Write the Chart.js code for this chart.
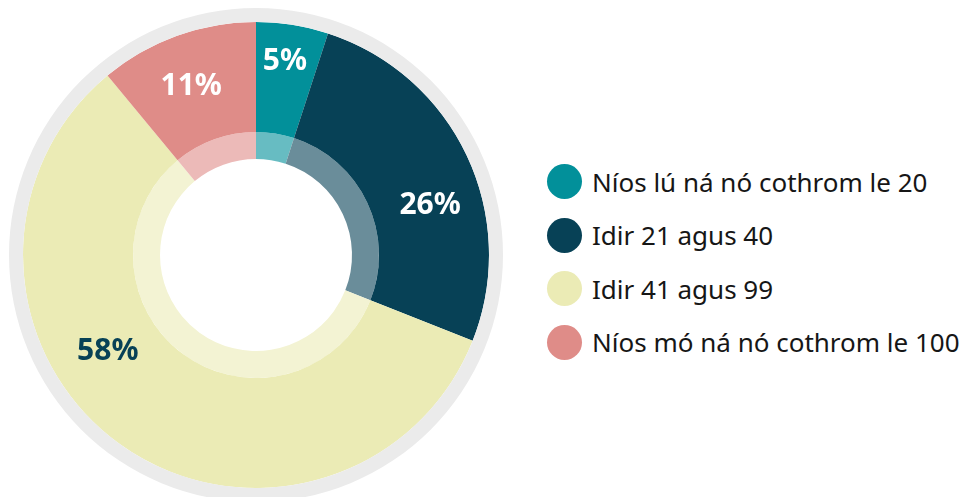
<!DOCTYPE html>
<html>
<head>
<meta charset="utf-8">
<script src="https://cdn.jsdelivr.net/npm/chart.js@4/dist/chart.umd.min.js"></script>
<style>
    html, body { margin: 0; padding: 0; background: #fff; overflow: hidden; }
    body { width: 962px; height: 497px; position: relative; font-family: 'Noto Sans', sans-serif; }
    #grafico { position: absolute; left: 9px; top: 8px; }
    #legenda { position: absolute; left: 547px; top: 164px; margin: 0; padding: 0; list-style: none; }
    #legenda li { display: flex; align-items: center; height: 35px; margin-bottom: 18.5px; font-size: 26px; color: #161616; }
    #legenda .bola { width: 35px; height: 35px; border-radius: 50%; margin-right: 10px; flex: none; }
</style>
</head>
<body>
<canvas id="grafico" width="494" height="494"></canvas>
<ul id="legenda"></ul>
<script>
const CATEGORIAS = [
    'Níos lú ná nó cothrom le 20',
    'Idir 21 agus 40',
    'Idir 41 agus 99',
    'Níos mó ná nó cothrom le 100',
];
const VALORES = [5, 26, 58, 11];
const CORES = ['#02909a', '#074156', '#ebebb5', '#df8c88'];
const CORES_TEXTO = ['#ffffff', '#ffffff', '#074156', '#ffffff'];

// posição dos rótulos: fração do arco e raio
const ROTULO_FRACAO = [0.47, 0.6, 0.6, 0.47];
const ROTULO_RAIO = [196, 181, 177, 181];

function clarear(hex, alfa) {
    const n = parseInt(hex.slice(1), 16);
    const r = (n >> 16) & 255, g = (n >> 8) & 255, b = n & 255;
    const mix = (c) => Math.round(c + (255 - c) * alfa);
    return `rgb(${mix(r)}, ${mix(g)}, ${mix(b)})`;
}

const legenda = document.getElementById('legenda');
CATEGORIAS.forEach((nome, i) => {
    const item = document.createElement('li');
    item.innerHTML = `<span class="bola" style="background:${CORES[i]}"></span><span>${nome}</span>`;
    legenda.appendChild(item);
});

const rotulosPlugin = {
    id: 'rotulos',
    afterDatasetsDraw(chart) {
        const meta = chart.getDatasetMeta(1);
        const ctx = chart.ctx;
        ctx.save();
        ctx.font = 'bold 30px "Noto Sans"';
        ctx.textAlign = 'center';
        ctx.textBaseline = 'middle';
        meta.data.forEach((arco, i) => {
            const { x, y, startAngle, endAngle } = arco.getProps(['x', 'y', 'startAngle', 'endAngle'], true);
            const ang = startAngle + (endAngle - startAngle) * ROTULO_FRACAO[i];
            ctx.fillStyle = CORES_TEXTO[i];
            ctx.fillText(VALORES[i] + '%', x + Math.cos(ang) * ROTULO_RAIO[i], y + Math.sin(ang) * ROTULO_RAIO[i]);
        });
        ctx.restore();
    },
};

new Chart(document.getElementById('grafico'), {
    type: 'doughnut',
    data: {
        labels: CATEGORIAS,
        datasets: [
            { data: [100], backgroundColor: ['#ebebeb'], weight: 14 },
            { data: VALORES, backgroundColor: CORES, weight: 110 },
            { data: VALORES, backgroundColor: CORES.map((c) => clarear(c, 0.4)), weight: 27 },
        ],
    },
    options: {
        responsive: false,
        animation: false,
        cutout: 96,
        borderWidth: 0,
        hoverOffset: 0,
        spacing: 0,
        layout: { padding: 0 },
        plugins: { legend: { display: false }, tooltip: { enabled: false } },
    },
    plugins: [rotulosPlugin],
});
</script>
</body>
</html>
